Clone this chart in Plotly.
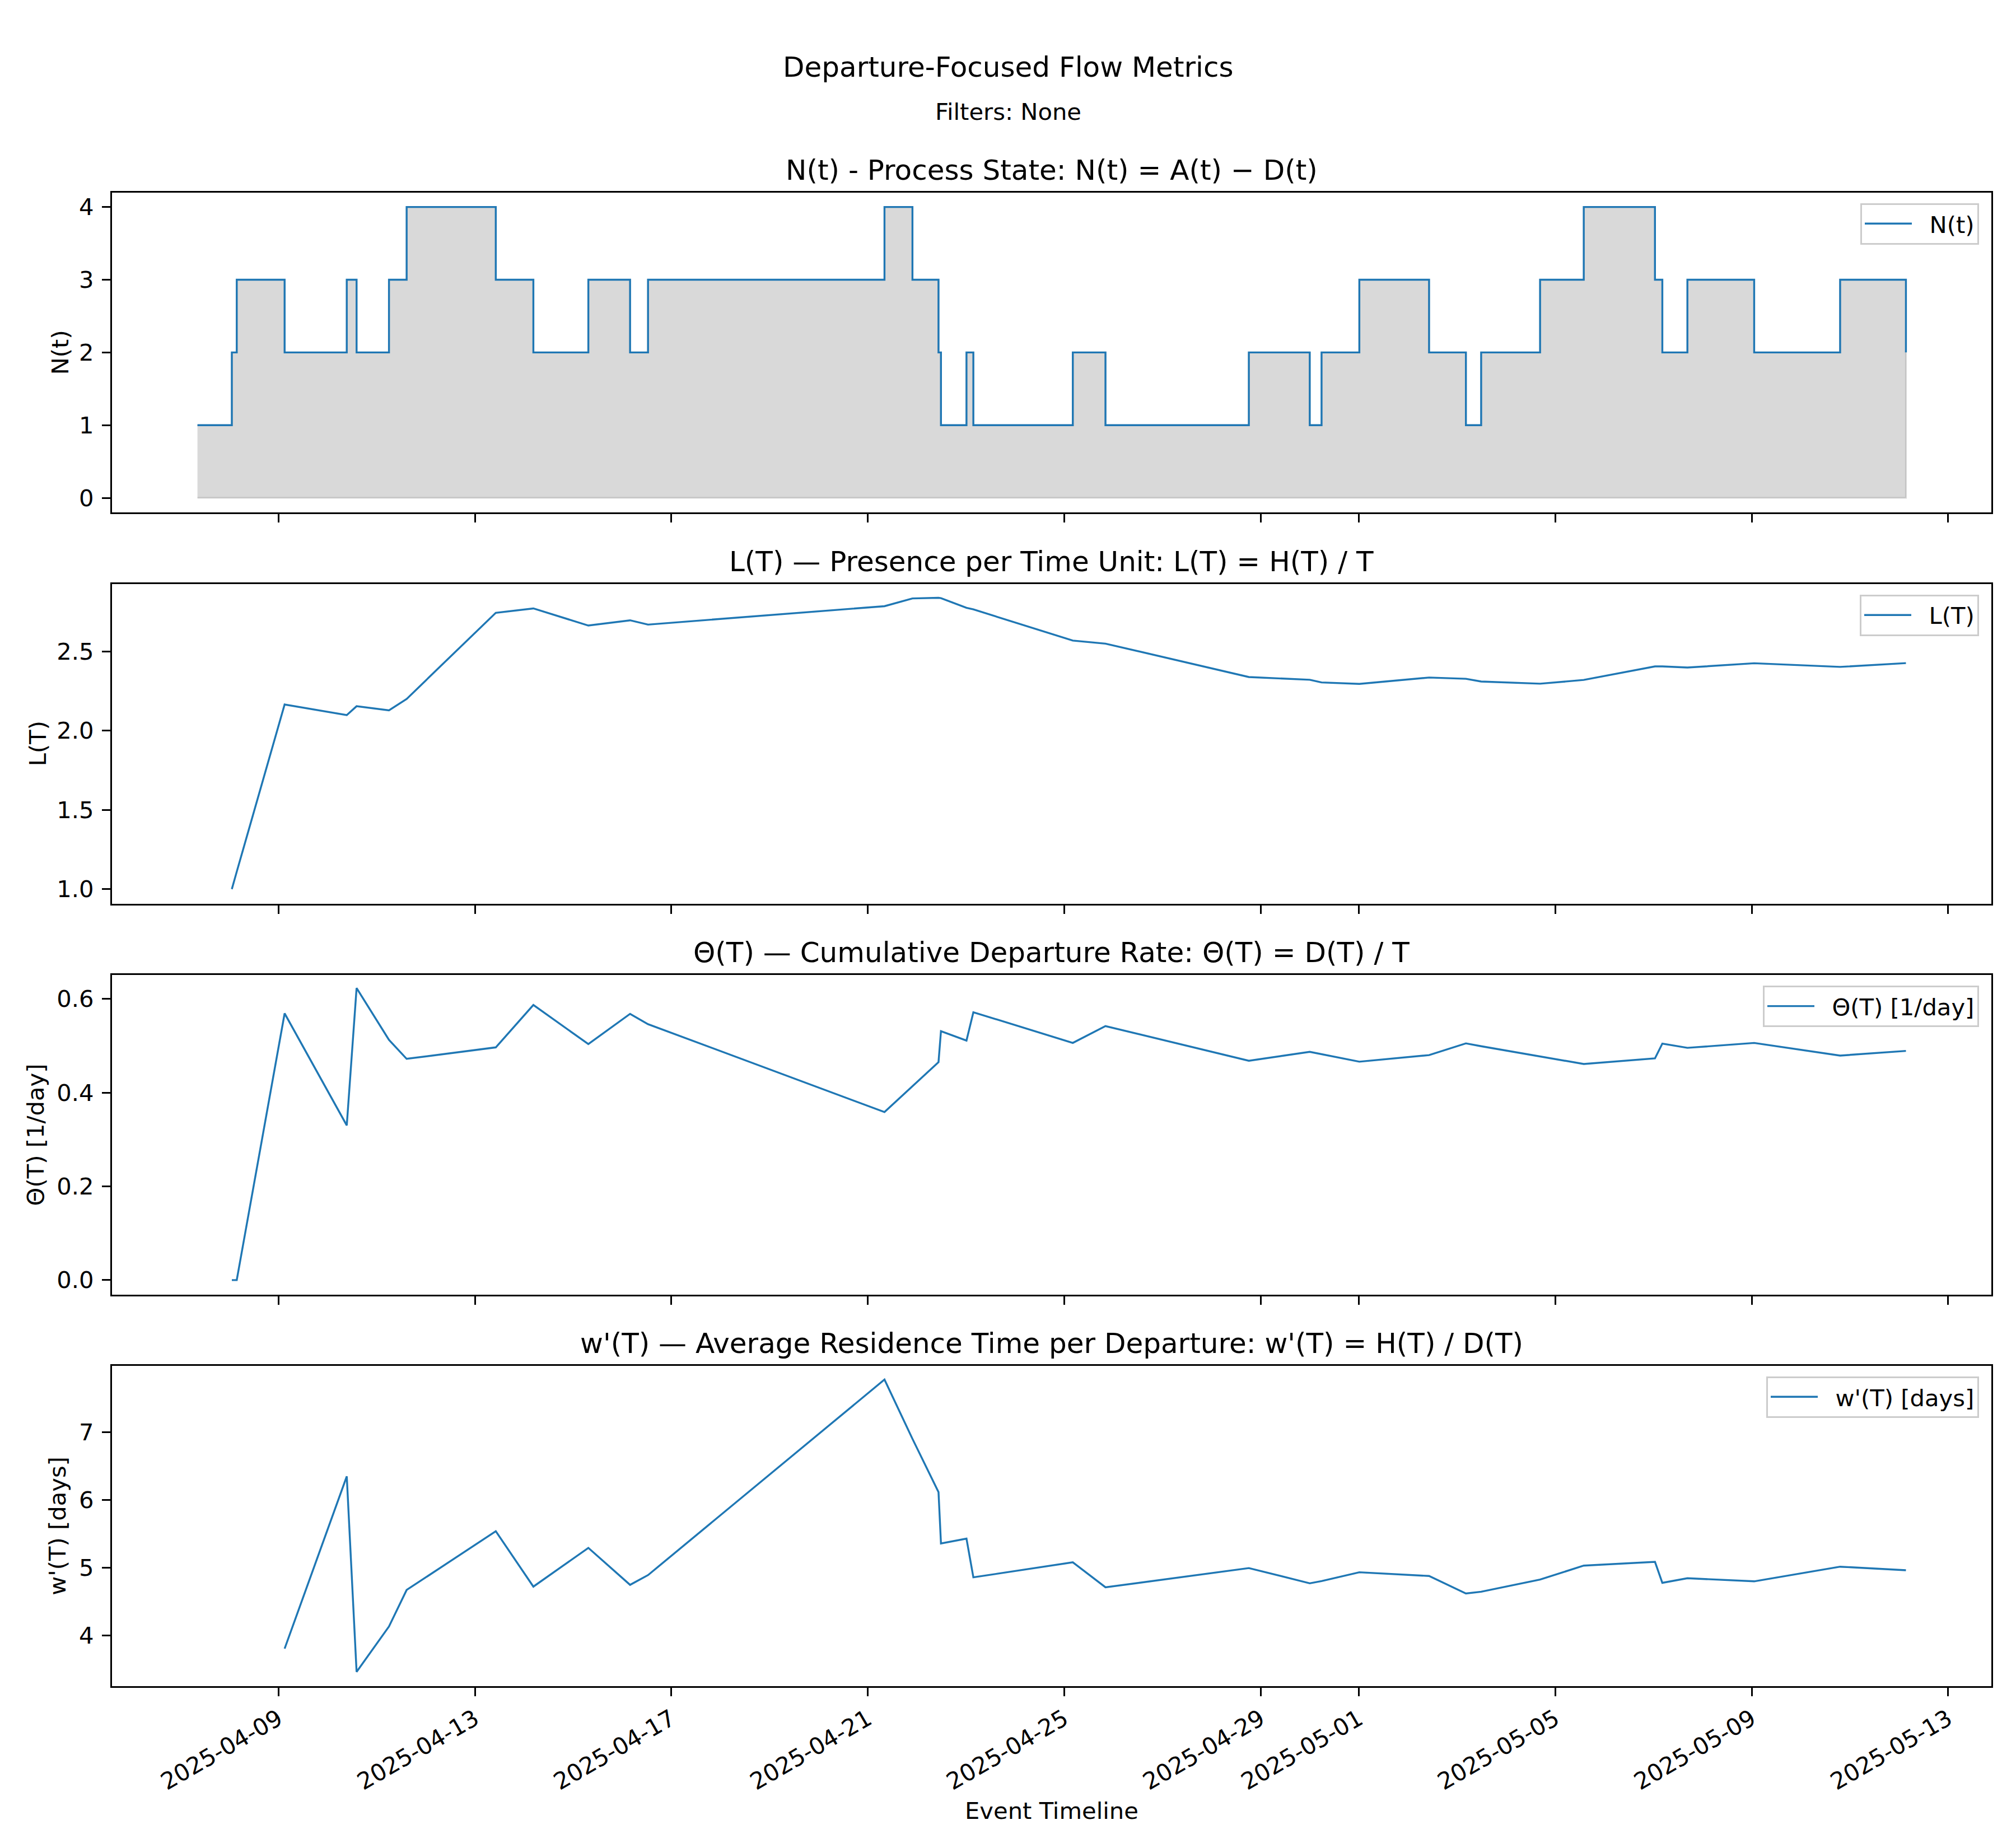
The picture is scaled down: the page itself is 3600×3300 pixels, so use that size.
import plotly.graph_objects as go

# ---------------- data ----------------
times = [
    "2025-04-07 08:24", "2025-04-08 01:12", "2025-04-08 03:36", "2025-04-09 03:00",
    "2025-04-10 09:22", "2025-04-10 14:10", "2025-04-11 06:00", "2025-04-11 14:38",
    "2025-04-13 10:12", "2025-04-14 04:34", "2025-04-15 07:26", "2025-04-16 03:50",
    "2025-04-16 12:36", "2025-04-21 08:10", "2025-04-21 21:50", "2025-04-22 10:34",
    "2025-04-22 11:46", "2025-04-23 00:14", "2025-04-23 03:36", "2025-04-25 04:12",
    "2025-04-25 20:10", "2025-04-28 18:14", "2025-04-30 00:00", "2025-04-30 05:46",
    "2025-05-01 00:14", "2025-05-02 10:19", "2025-05-03 04:19", "2025-05-03 11:46",
    "2025-05-04 16:34", "2025-05-05 13:55", "2025-05-07 00:43", "2025-05-07 04:19",
    "2025-05-07 16:34", "2025-05-09 01:12", "2025-05-10 19:12", "2025-05-12 03:22",
]
n_values = [1, 2, 3, 2, 3, 2, 3, 4, 3, 2, 3, 2, 3, 4, 3, 2, 1, 2, 1, 2, 1, 2, 1, 2,
            3, 2, 1, 2, 3, 4, 3, 2, 3, 2, 3, 2]
l_values = [None, 1.00, 1.11, 2.165, 2.098, 2.154, 2.128, 2.20, 2.743, 2.771, 2.663,
            2.696, 2.669, 2.785, 2.834, 2.838, 2.836, 2.775, 2.765, 2.568, 2.549,
            2.338, 2.321, 2.304, 2.295, 2.335, 2.327, 2.310, 2.296, 2.320, 2.405,
            2.405, 2.398, 2.425, 2.402, 2.426]
theta_values = [None, 0.0, 0.0, 0.569, 0.330, 0.623, 0.5125, 0.472, 0.4965, 0.587,
                0.5035, 0.568, 0.546, 0.3585, 0.413, 0.465, 0.531, 0.511, 0.5715,
                0.506, 0.542, 0.468, 0.487, 0.482, 0.466, 0.480, 0.505, 0.499, 0.477,
                0.461, 0.473, 0.5045, 0.4955, 0.506, 0.479, 0.489]
w_values = [None, None, None, 3.804, 6.346, 3.461, 4.131, 4.670, 5.536, 4.719, 5.291,
            4.745, 4.889, 7.775, 6.90, 6.114, 5.356, 5.428, 4.856, 5.078, 4.709,
            4.993, 4.768, 4.800, 4.931, 4.876, 4.618, 4.644, 4.824, 5.029, 5.085,
            4.775, 4.843, 4.797, 5.013, 4.961]

x_tick_labels = ["2025-04-09", "2025-04-13", "2025-04-17", "2025-04-21", "2025-04-25",
                 "2025-04-29", "2025-05-01", "2025-05-05", "2025-05-09", "2025-05-13"]
x_range = ["2025-04-05 14:38", "2025-05-13 21:07"]

n_ticks = [0, 1, 2, 3, 4]
l_ticks = [1.0, 1.5, 2.0, 2.5]
theta_ticks = [0.0, 0.2, 0.4, 0.6]
w_ticks = [4, 5, 6, 7]

main_title = "Departure-Focused Flow Metrics"
sub_title = "Filters: None"
panel_titles = [
    "N(t) - Process State: N(t) = A(t) − D(t)",
    "L(T) — Presence per Time Unit: L(T) = H(T) / T",
    "Θ(T) — Cumulative Departure Rate: Θ(T) = D(T) / T",
    "w'(T) — Average Residence Time per Departure: w'(T) = H(T) / D(T)",
]
y_labels = ["N(t)", "L(T)", "Θ(T) [1/day]", "w'(T) [days]"]
legend_names = ["N(t)", "L(T)", "Θ(T) [1/day]", "w'(T) [days]"]

# ---------------- styling / layout ----------------
W, H = 3600, 3300
BLUE = "#1f77b4"
FONT = "DejaVu Sans"
LW = 3.4
FS_TICK = 41.7
FS_TITLE = 50
GAP = "\u00a0\u00a0"  # visual gap between legend line sample and its label

x_dom = [200 / W, 3556 / W]
panel_px = [(343.7, 915.0), (1042.6, 1613.8), (1741.0, 2311.8), (2438.7, 3011.0)]
y_doms = [[1 - b / H, 1 - t / H] for t, b in panel_px]
y_ranges = [[-0.2, 4.2], [0.908, 2.926], [-0.031, 0.651], [3.25, 7.98]]
y_tick_sets = [n_ticks, l_ticks, theta_ticks, w_ticks]
y_fmt = ["d", ".1f", ".1f", "d"]
ylabel_x = [107 / W, 67 / W, 63 / W, 103 / W]

fig = go.Figure()

# shaded area under N(t) (step-post polygon built from the data)
px_, py_ = [], []
for i in range(len(times)):
    px_.append(times[i]); py_.append(n_values[i])
    if i + 1 < len(times):
        px_.append(times[i + 1]); py_.append(n_values[i])
px_ += [times[-1], times[0]]
py_ += [0, 0]
fig.add_trace(go.Scatter(x=px_, y=py_, mode="lines", fill="toself",
                         fillcolor="rgba(128,128,128,0.3)",
                         line=dict(color="rgba(128,128,128,0.3)", width=3),
                         showlegend=False, hoverinfo="skip", xaxis="x", yaxis="y"))
fig.add_trace(go.Scatter(x=times, y=n_values, mode="lines", name=GAP + legend_names[0],
                         line=dict(color=BLUE, width=LW, shape="hv"),
                         xaxis="x", yaxis="y", legend="legend"))
fig.add_trace(go.Scatter(x=times, y=l_values, mode="lines", name=GAP + legend_names[1],
                         line=dict(color=BLUE, width=LW),
                         xaxis="x2", yaxis="y2", legend="legend2"))
fig.add_trace(go.Scatter(x=times, y=theta_values, mode="lines", name=GAP + legend_names[2],
                         line=dict(color=BLUE, width=LW),
                         xaxis="x3", yaxis="y3", legend="legend3"))
fig.add_trace(go.Scatter(x=times, y=w_values, mode="lines", name=GAP + legend_names[3],
                         line=dict(color=BLUE, width=LW),
                         xaxis="x4", yaxis="y4", legend="legend4"))

axis_common = dict(showline=True, linecolor="black", linewidth=3.3, mirror=True,
                   ticks="outside", ticklen=15, tickwidth=3.3, tickcolor="black",
                   showgrid=False, zeroline=False,
                   tickfont=dict(family=FONT, size=FS_TICK, color="black"))

layout = dict(width=W, height=H, margin=dict(l=0, r=0, t=0, b=0),
              paper_bgcolor="white", plot_bgcolor="white",
              font=dict(family=FONT, color="black"))

annotations = [
    dict(text=main_title, x=0.5, y=1 - 120 / H, xref="paper", yref="paper",
         showarrow=False, xanchor="center", yanchor="middle",
         font=dict(family=FONT, size=FS_TITLE, color="black")),
    dict(text=sub_title, x=0.5, y=1 - 200 / H, xref="paper", yref="paper",
         showarrow=False, xanchor="center", yanchor="middle",
         font=dict(family=FONT, size=FS_TICK, color="black")),
    dict(text="Event Timeline", x=(x_dom[0] + x_dom[1]) / 2, y=1 - 3233 / H,
         xref="paper", yref="paper", showarrow=False, xanchor="center",
         yanchor="middle", font=dict(family=FONT, size=FS_TICK, color="black")),
]

for k in range(4):
    sfx = "" if k == 0 else str(k + 1)
    xa = dict(axis_common, type="date", domain=x_dom, anchor="y" + sfx,
              range=x_range, tickmode="array", tickvals=x_tick_labels,
              ticktext=x_tick_labels, showticklabels=(k == 3), tickangle=-30)
    if k > 0:
        xa["matches"] = "x"
    ya = dict(axis_common, domain=y_doms[k], anchor="x" + sfx, range=y_ranges[k],
              tickmode="array", tickvals=y_tick_sets[k], tickformat=y_fmt[k],
              ticklabelstandoff=6)
    layout["xaxis" + sfx] = xa
    layout["yaxis" + sfx] = ya

    top_px = panel_px[k][0]
    layout["legend" + sfx] = dict(
        x=3534 / W, xanchor="right", y=1 - (top_px + 19) / H, yanchor="top",
        bgcolor="rgba(255,255,255,0.8)", bordercolor="#cccccc", borderwidth=3,
        itemwidth=84,
        font=dict(family=FONT, size=FS_TICK, color="black"))

    annotations.append(dict(text=panel_titles[k], x=(x_dom[0] + x_dom[1]) / 2,
                            y=1 - (top_px - 40) / H, xref="paper", yref="paper",
                            showarrow=False, xanchor="center", yanchor="middle",
                            font=dict(family=FONT, size=FS_TITLE, color="black")))
    annotations.append(dict(text=y_labels[k], x=ylabel_x[k],
                            y=(y_doms[k][0] + y_doms[k][1]) / 2, xref="paper",
                            yref="paper", showarrow=False, textangle=-90,
                            xanchor="center", yanchor="middle",
                            font=dict(family=FONT, size=FS_TICK, color="black")))

layout["annotations"] = annotations
fig.update_layout(**layout)

fig.write_html("out.html", config={"displayModeBar": False},
               post_script="document.body.style.margin='0';")
